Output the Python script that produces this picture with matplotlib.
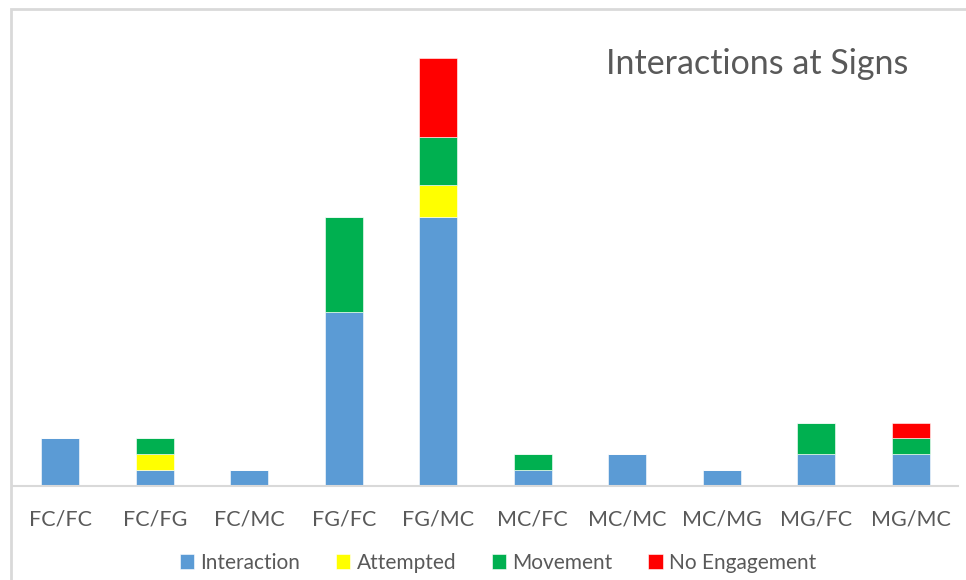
import numpy as np
import matplotlib.pyplot as plt
from matplotlib.patches import Rectangle

plt.rcParams['font.family'] = ['Lato', 'DejaVu Sans']

# data
categories = ['FC/FC', 'FC/FG', 'FC/MC', 'FG/FC', 'FG/MC', 'MC/FC', 'MC/MC', 'MC/MG', 'MG/FC', 'MG/MC']
interaction = [3, 1, 1, 11, 17, 1, 2, 1, 2, 2]
attempted = [0, 1, 0, 0, 2, 0, 0, 0, 0, 0]
movement = [0, 1, 0, 6, 3, 1, 0, 0, 2, 1]
no_engagement = [0, 0, 0, 0, 5, 0, 0, 0, 0, 1]

series = [('Interaction', interaction, '#5B9BD5'),
          ('Attempted', attempted, '#FFFF00'),
          ('Movement', movement, '#00B050'),
          ('No Engagement', no_engagement, '#FF0000')]

fig = plt.figure(figsize=(9.66, 5.8), dpi=100)
ax = fig.add_axes([13/966, 1 - 486/580, (958-13)/966, (486-20)/580])

x = np.arange(len(categories))
bottom = np.zeros(len(categories))
for name, vals, col in series:
    vals = np.array(vals, dtype=float)
    ax.bar(x, vals, 0.4, bottom=bottom, color=col, label=name,
           edgecolor='white', linewidth=0.4)
    bottom += vals

ax.set_xlim(-0.5, len(categories) - 0.5)
ax.set_ylim(0, 29.4)
ax.set_yticks([])
ax.set_xticks(x)
ax.set_xticklabels(categories, fontsize=15.5, color='#595959')
ax.tick_params(axis='x', length=0, pad=17)
for s in ['top', 'right', 'left']:
    ax.spines[s].set_visible(False)
ax.spines['bottom'].set_color('#d9d9d9')
ax.spines['bottom'].set_linewidth(1.5)

ax.text(0.947, 0.905, 'Interactions at Signs', transform=ax.transAxes,
        ha='right', va='center', fontsize=24.5, color='#595959')

fig.legend(loc='center', bbox_to_anchor=(498/966, 1 - 563/580), ncol=4,
           frameon=False, fontsize=15, handlelength=0.7, handleheight=0.7,
           handletextpad=0.3, columnspacing=1.7, labelcolor='#595959')

# outer chart frame
fig.patches.append(Rectangle((11/966, -0.05), 1.0, 1 - 9/580 + 0.05,
                             transform=fig.transFigure, fill=False,
                             edgecolor='#d9d9d9', linewidth=2))

fig.savefig('out.png', dpi=100, facecolor='white')
